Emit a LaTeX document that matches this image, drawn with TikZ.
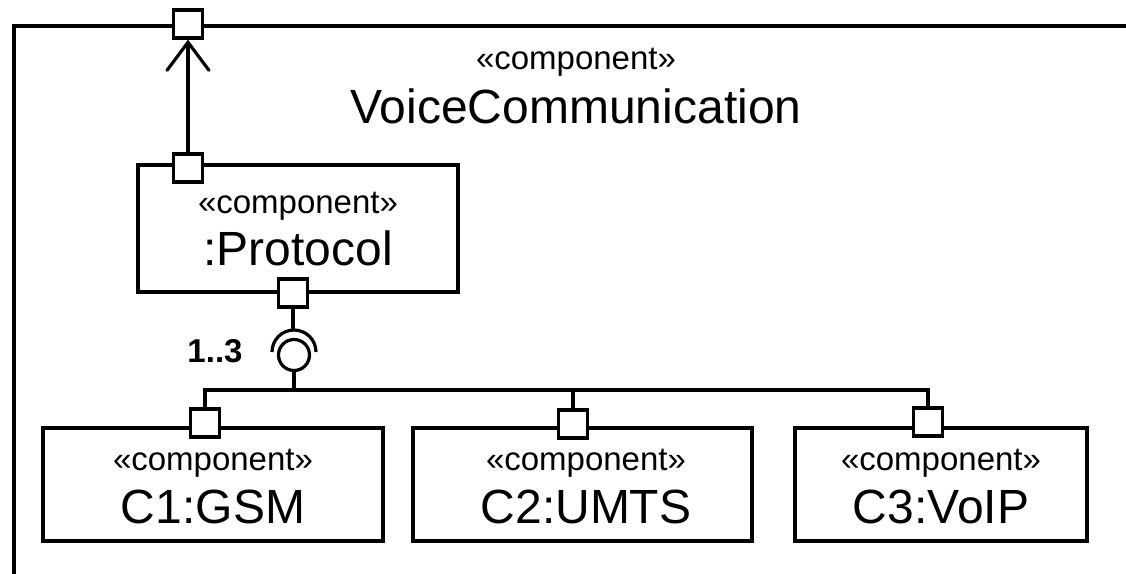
\documentclass[tikz,border=0pt]{standalone}
\usepackage{fontspec}
\setmainfont{Liberation Sans}
\usetikzlibrary{arrows.meta}
\begin{document}
\begin{tikzpicture}[x=1pt,y=-1pt,
  line width=3.2pt,
  comp/.style={draw, rectangle, inner sep=0pt},
  port/.style={draw, fill=white, rectangle, minimum width=29pt, minimum height=28pt, inner sep=0pt},
  stereo/.style={font=\fontsize{33}{35}\selectfont, inner sep=0pt, anchor=base},
  cname/.style={font=\fontsize{48}{52}\selectfont, inner sep=0pt, anchor=base},
  mult/.style={font=\bfseries\fontsize{33}{35}\selectfont, inner sep=0pt, anchor=base},
  wire/.style={line width=3.2pt},
]
\useasboundingbox (0,0) rectangle (1126,573);
\fill[white] (0,0) rectangle (1126,573);

% enclosing component frame (runs off the page right and bottom)
\begin{scope}
  \clip (0,0) rectangle (1126,573);
  \draw[line width=3.4pt] (14,600) -- (14,26) -- (1160,26);
\end{scope}
\node[stereo] (vcst) at (576,69) {«component»};
\node[cname] (vcname) at (576,123) {VoiceCommunication};

% parts
\node[comp, minimum width=320pt, minimum height=127pt] (proto) at (298,228.5) {};
\node[comp, minimum width=340pt, minimum height=113pt] (gsm) at (213,484.5) {};
\node[comp, minimum width=339pt, minimum height=113pt] (umts) at (582.5,484.5) {};
\node[comp, minimum width=292pt, minimum height=113pt] (voip) at (941,484.5) {};

\node[stereo] (protost) at (298,213) {«component»};
\node[cname] (protoname) at (298,265) {:Protocol};
\node[stereo] (gsmst) at (213,470) {«component»};
\node[cname] (gsmname) at (213,523) {C1:GSM};
\node[stereo] (umtsst) at (586,470) {«component»};
\node[cname] (umtsname) at (586,523) {C2:UMTS};
\node[stereo] (voipst) at (941,470) {«component»};
\node[cname] (voipname) at (941,523) {C3:VoIP};

% ports
\node[port] (pout) at (188,24) {};
\node[port] (pin) at (188,168) {};
\node[port] (pbot) at (293,293) {};
\node[port] (pgsm) at (205,423) {};
\node[port] (pumts) at (573,424) {};
\node[port] (pvoip) at (928,422) {};

% delegation connector
\draw[wire, -{Straight Barb[length=28pt, width=42pt, line cap=round]}] (pin.north) -- (pout.south);

% assembly: socket on the Protocol port, ball on the providers
\coordinate (ballc) at (294,355);
\coordinate (sockc) at (294,352);
\coordinate (sockl) at (272,352);
\coordinate (balltop) at (294,339.5);
\coordinate (ballbot) at (294,370.5);
\coordinate (bus) at (294,390);
\draw[wire] (pbot.south) -- (pbot.south |- 0,330);
\draw[wire] (sockl) arc[start angle=180, end angle=0, radius=22pt];
\draw[wire] (ballc) circle[radius=15.5pt];
\draw[wire] (ballbot) -- (bus);
\draw[wire] (pgsm.north) |- (bus) -| (pvoip.north);
\draw[wire] (pumts.north) -- (pumts.north |- bus);

\node[mult] (m) at (215,362) {1..3};
\end{tikzpicture}
\end{document}
